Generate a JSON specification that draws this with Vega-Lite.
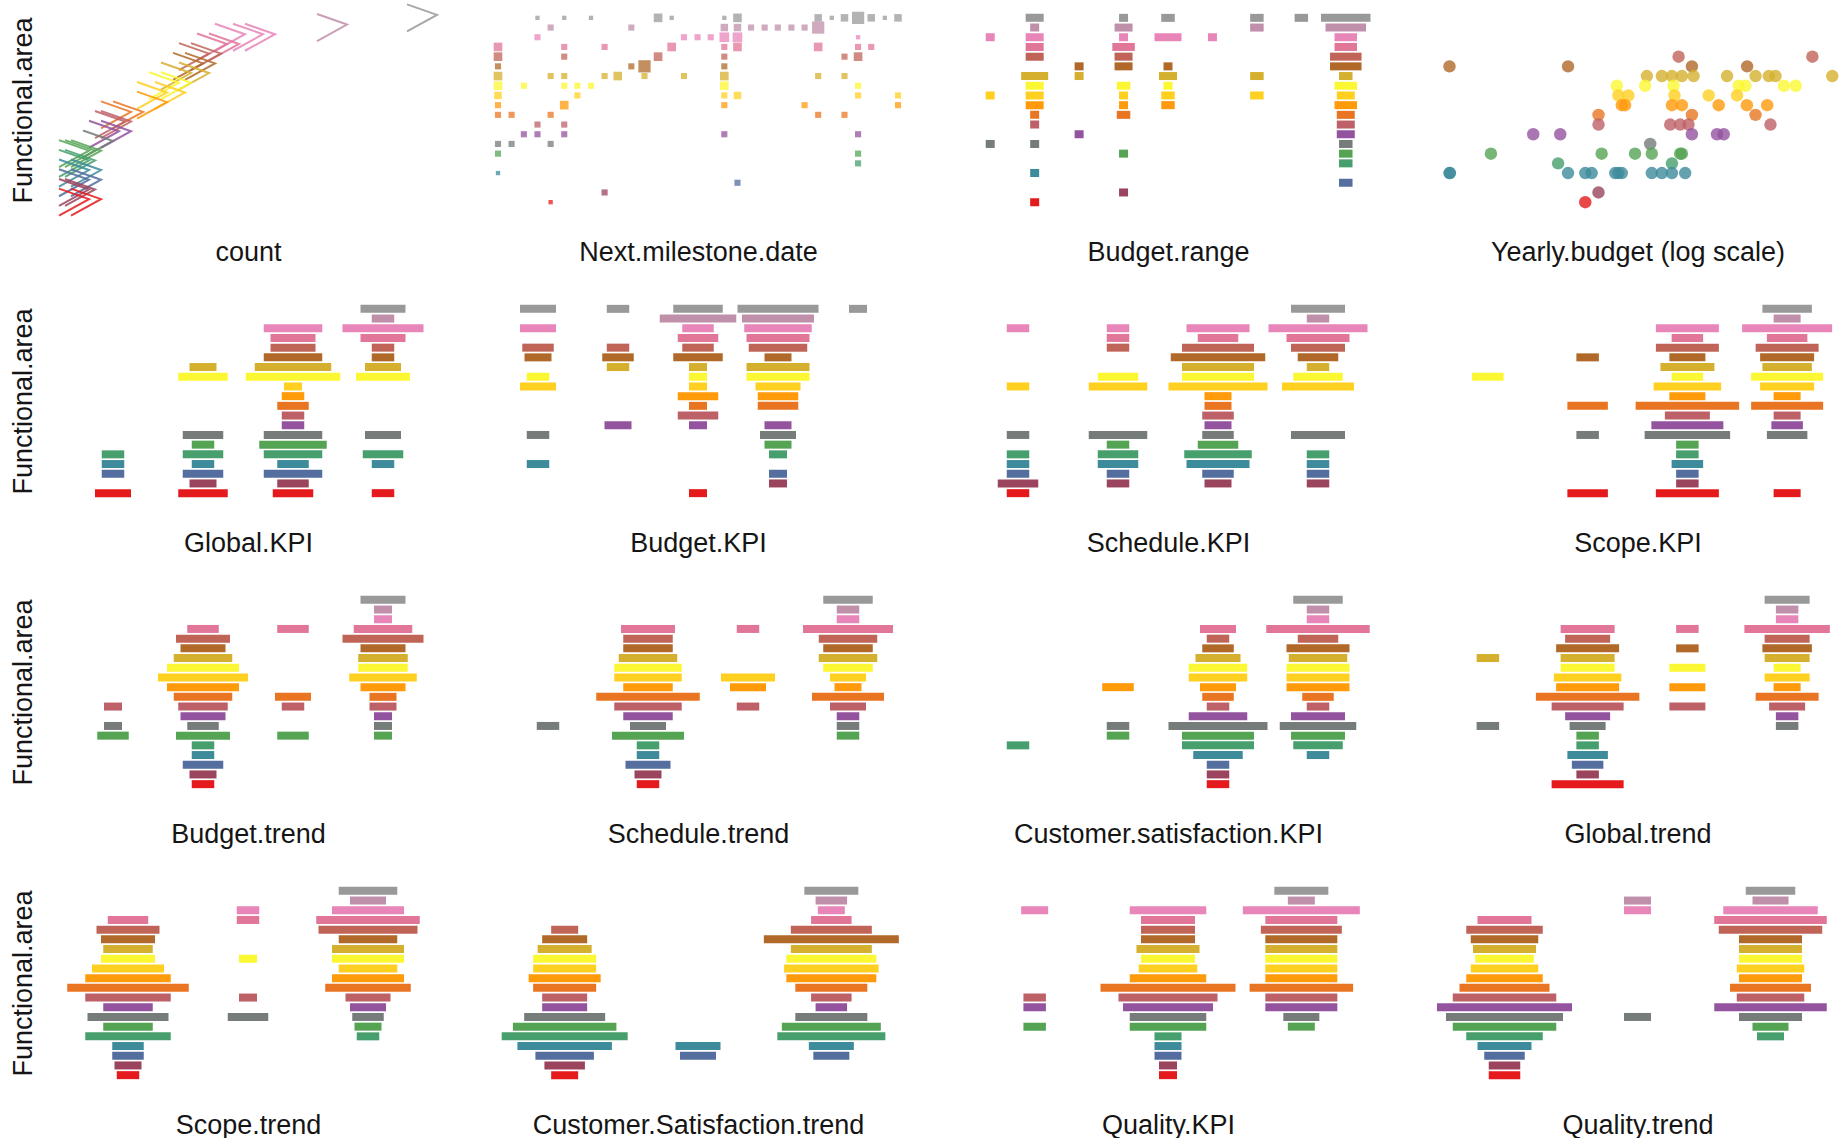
{
"$schema":"https://vega.github.io/schema/vega-lite/v6.json",
"background":"white",
"padding":{"left":9,"top":0,"right":0,"bottom":0},
"columns":4,
"spacing":{"row":97,"column":70},
"bounds":"flush",
"align":"each",
"resolve":{"scale":{"size":"independent"}},
"config":{"view":{"stroke":null},"axis":{"labels":false,"ticks":false,"domain":false,"grid":false,"titleFont":"Liberation Sans","titleFontSize":27,"titleFontWeight":"normal","titleColor":"#151515"},"axisX":{"titlePadding":32},"axisY":{"titlePadding":31}},
"datasets":{
"cnt":[{"a":"A20","count":59},{"a":"A19","count":44},{"a":"A18","count":27},{"a":"A18","count":30},{"a":"A18","count":32},{"a":"A17","count":24},{"a":"A17","count":26},{"a":"A16","count":21},{"a":"A16","count":23},{"a":"A15","count":20},{"a":"A15","count":22},{"a":"A14","count":18},{"a":"A14","count":21},{"a":"A13","count":16},{"a":"A13","count":18},{"a":"A12","count":14},{"a":"A12","count":17},{"a":"A11","count":14},{"a":"A10","count":8},{"a":"A10","count":10},{"a":"A09","count":7},{"a":"A09","count":8},{"a":"A08","count":6},{"a":"A08","count":8},{"a":"A07","count":5},{"a":"A06","count":1},{"a":"A06","count":2},{"a":"A06","count":3},{"a":"A05","count":1},{"a":"A05","count":2},{"a":"A04","count":1},{"a":"A04","count":3},{"a":"A03","count":1},{"a":"A03","count":3},{"a":"A02","count":1},{"a":"A02","count":2},{"a":"A01","count":1},{"a":"A01","count":3}],
"ms":[
{"a":"A20","date":"2014-04-01","n":1},{"a":"A20","date":"2014-06-01","n":1},{"a":"A20","date":"2014-08-01","n":1},{"a":"A20","date":"2015-01-01","n":4},{"a":"A20","date":"2015-02-01","n":1},{"a":"A20","date":"2015-06-01","n":1},{"a":"A20","date":"2015-07-01","n":4},{"a":"A20","date":"2016-01-01","n":3},{"a":"A20","date":"2016-02-01","n":1},{"a":"A20","date":"2016-03-01","n":3},{"a":"A20","date":"2016-04-01","n":8},{"a":"A20","date":"2016-05-01","n":3},{"a":"A20","date":"2016-06-01","n":1},{"a":"A20","date":"2016-07-01","n":3},
{"a":"A19","date":"2014-05-01","n":2},{"a":"A19","date":"2014-11-01","n":2},{"a":"A19","date":"2015-06-01","n":3},{"a":"A19","date":"2015-07-01","n":3},{"a":"A19","date":"2015-08-01","n":2},{"a":"A19","date":"2015-09-01","n":2},{"a":"A19","date":"2015-10-01","n":2},{"a":"A19","date":"2015-11-01","n":2},{"a":"A19","date":"2015-12-01","n":2},{"a":"A19","date":"2016-01-01","n":8},
{"a":"A18","date":"2014-04-01","n":2},{"a":"A18","date":"2015-03-01","n":2},{"a":"A18","date":"2015-04-01","n":2},{"a":"A18","date":"2015-05-01","n":2},{"a":"A18","date":"2015-06-01","n":5},{"a":"A18","date":"2015-07-01","n":5},{"a":"A18","date":"2016-04-01","n":1},
{"a":"A17","date":"2014-01-01","n":4},{"a":"A17","date":"2014-06-01","n":2},{"a":"A17","date":"2014-09-01","n":2},{"a":"A17","date":"2015-02-01","n":4},{"a":"A17","date":"2015-06-01","n":2},{"a":"A17","date":"2015-07-01","n":4},{"a":"A17","date":"2016-01-01","n":4},{"a":"A17","date":"2016-04-01","n":2},{"a":"A17","date":"2016-05-01","n":2},
{"a":"A16","date":"2014-01-01","n":4},{"a":"A16","date":"2014-06-01","n":2},{"a":"A16","date":"2015-01-01","n":4},{"a":"A16","date":"2015-06-01","n":2},{"a":"A16","date":"2016-03-01","n":2},{"a":"A16","date":"2016-04-01","n":4},
{"a":"A15","date":"2014-01-01","n":2},{"a":"A15","date":"2014-11-01","n":2},{"a":"A15","date":"2014-12-01","n":8},{"a":"A15","date":"2015-06-01","n":2},
{"a":"A14","date":"2014-01-01","n":4},{"a":"A14","date":"2014-05-01","n":2},{"a":"A14","date":"2014-06-01","n":2},{"a":"A14","date":"2014-09-01","n":2},{"a":"A14","date":"2014-10-01","n":4},{"a":"A14","date":"2014-12-01","n":2},{"a":"A14","date":"2015-03-01","n":2},{"a":"A14","date":"2015-06-01","n":4},{"a":"A14","date":"2016-01-01","n":2},{"a":"A14","date":"2016-03-01","n":2},
{"a":"A13","date":"2014-01-01","n":4},{"a":"A13","date":"2014-03-01","n":2},{"a":"A13","date":"2014-06-01","n":2},{"a":"A13","date":"2014-07-01","n":2},{"a":"A13","date":"2014-08-01","n":2},{"a":"A13","date":"2015-06-01","n":4},{"a":"A13","date":"2016-04-01","n":2},
{"a":"A12","date":"2014-01-01","n":3},{"a":"A12","date":"2014-07-01","n":2},{"a":"A12","date":"2015-06-01","n":2},{"a":"A12","date":"2015-07-01","n":3},{"a":"A12","date":"2016-04-01","n":2},{"a":"A12","date":"2016-07-01","n":2},
{"a":"A11","date":"2014-01-01","n":2},{"a":"A11","date":"2014-06-01","n":4},{"a":"A11","date":"2015-06-01","n":2},{"a":"A11","date":"2015-12-01","n":2},{"a":"A11","date":"2016-07-01","n":2},
{"a":"A10","date":"2014-01-01","n":2},{"a":"A10","date":"2014-02-01","n":2},{"a":"A10","date":"2014-05-01","n":2},{"a":"A10","date":"2016-01-01","n":2},{"a":"A10","date":"2016-03-01","n":2},
{"a":"A09","date":"2014-04-01","n":2},{"a":"A09","date":"2014-06-01","n":2},
{"a":"A08","date":"2014-03-01","n":2},{"a":"A08","date":"2014-04-01","n":2},{"a":"A08","date":"2014-06-01","n":2},{"a":"A08","date":"2015-06-01","n":2},{"a":"A08","date":"2016-04-01","n":2},
{"a":"A07","date":"2014-01-01","n":2},{"a":"A07","date":"2014-02-01","n":2},{"a":"A07","date":"2014-05-01","n":2},
{"a":"A06","date":"2014-01-01","n":2},{"a":"A06","date":"2016-04-01","n":2},
{"a":"A05","date":"2016-04-01","n":2},
{"a":"A04","date":"2014-01-01","n":1},
{"a":"A03","date":"2015-07-01","n":2},
{"a":"A02","date":"2014-09-01","n":2},
{"a":"A01","date":"2014-05-01","n":1}],
"br":[
{"c":"1","a":"A18","n":2},{"c":"1","a":"A12","n":2},{"c":"1","a":"A07","n":2},
{"c":"2","a":"A20","n":4},{"c":"2","a":"A19","n":2},{"c":"2","a":"A18","n":4},{"c":"2","a":"A17","n":4},{"c":"2","a":"A16","n":4},{"c":"2","a":"A14","n":6},{"c":"2","a":"A13","n":4},{"c":"2","a":"A12","n":4},{"c":"2","a":"A11","n":4},{"c":"2","a":"A10","n":2},{"c":"2","a":"A09","n":2},{"c":"2","a":"A07","n":2},{"c":"2","a":"A04","n":2},{"c":"2","a":"A01","n":2},
{"c":"3","a":"A15","n":2},{"c":"3","a":"A14","n":2},{"c":"3","a":"A08","n":2},
{"c":"4","a":"A20","n":2},{"c":"4","a":"A19","n":4},{"c":"4","a":"A18","n":2},{"c":"4","a":"A17","n":5},{"c":"4","a":"A16","n":4},{"c":"4","a":"A15","n":4},{"c":"4","a":"A13","n":3},{"c":"4","a":"A12","n":2},{"c":"4","a":"A11","n":2},{"c":"4","a":"A10","n":3},{"c":"4","a":"A06","n":2},{"c":"4","a":"A02","n":2},
{"c":"5","a":"A20","n":3},{"c":"5","a":"A18","n":6},{"c":"5","a":"A15","n":2},{"c":"5","a":"A14","n":4},{"c":"5","a":"A13","n":2},{"c":"5","a":"A12","n":3},{"c":"5","a":"A11","n":3},
{"c":"6","a":"A18","n":2},
{"c":"7","a":"A20","n":3},{"c":"7","a":"A19","n":3},{"c":"7","a":"A14","n":3},{"c":"7","a":"A12","n":3},
{"c":"8","a":"A20","n":3},
{"c":"9","a":"A20","n":11},{"c":"9","a":"A19","n":9},{"c":"9","a":"A18","n":5},{"c":"9","a":"A17","n":5},{"c":"9","a":"A16","n":7},{"c":"9","a":"A15","n":7},{"c":"9","a":"A14","n":3},{"c":"9","a":"A13","n":5},{"c":"9","a":"A12","n":4},{"c":"9","a":"A11","n":5},{"c":"9","a":"A10","n":4},{"c":"9","a":"A09","n":4},{"c":"9","a":"A08","n":4},{"c":"9","a":"A07","n":3},{"c":"9","a":"A06","n":3},{"c":"9","a":"A05","n":3},{"c":"9","a":"A03","n":3}],
"yb":[
{"a":"A15","budget":12200},{"a":"A15","budget":95000},{"a":"A15","budget":811000},{"a":"A15","budget":2110000},
{"a":"A16","budget":644000},{"a":"A16","budget":6530000},
{"a":"A14","budget":9220000},{"a":"A14","budget":372000},{"a":"A14","budget":482000},{"a":"A14","budget":574000},{"a":"A14","budget":682000},{"a":"A14","budget":835000},{"a":"A14","budget":1490000},{"a":"A14","budget":2440000},{"a":"A14","budget":3070000},{"a":"A14","budget":3450000},
{"a":"A13","budget":221000},{"a":"A13","budget":361000},{"a":"A13","budget":590000},{"a":"A13","budget":1824000},{"a":"A13","budget":2050000},{"a":"A13","budget":4890000},{"a":"A13","budget":3990000},
{"a":"A12","budget":227000},{"a":"A12","budget":270000},{"a":"A12","budget":600000},{"a":"A12","budget":1085000},{"a":"A12","budget":1773000},
{"a":"A11","budget":241000},{"a":"A11","budget":255000},{"a":"A11","budget":574000},{"a":"A11","budget":682000},{"a":"A11","budget":1290000},{"a":"A11","budget":2100000},{"a":"A11","budget":2985000},
{"a":"A10","budget":161000},{"a":"A10","budget":811000},{"a":"A10","budget":2440000},
{"a":"A09","budget":161000},{"a":"A09","budget":557000},{"a":"A09","budget":662000},{"a":"A09","budget":765000},{"a":"A09","budget":3160000},
{"a":"A08","budget":52000},{"a":"A08","budget":83000},{"a":"A08","budget":811000},{"a":"A08","budget":1253000},{"a":"A08","budget":1407000},
{"a":"A07","budget":394000},
{"a":"A06","budget":25000},{"a":"A06","budget":170000},{"a":"A06","budget":303000},{"a":"A06","budget":405000},{"a":"A06","budget":662000},{"a":"A06","budget":682000},
{"a":"A05","budget":80000},{"a":"A05","budget":574000},
{"a":"A04","budget":12200},{"a":"A04","budget":12300},{"a":"A04","budget":95000},{"a":"A04","budget":128000},{"a":"A04","budget":143000},{"a":"A04","budget":215000},{"a":"A04","budget":227000},{"a":"A04","budget":241000},{"a":"A04","budget":405000},{"a":"A04","budget":482000},{"a":"A04","budget":574000},{"a":"A04","budget":722000},
{"a":"A02","budget":161000},{"a":"A01","budget":128000}],
"gk":[
{"c":"1","a":"A05","n":5},{"c":"1","a":"A04","n":5},{"c":"1","a":"A03","n":5},{"c":"1","a":"A01","n":8},
{"c":"2","a":"A14","n":6},{"c":"2","a":"A13","n":11},{"c":"2","a":"A07","n":9},{"c":"2","a":"A06","n":5},{"c":"2","a":"A05","n":9},{"c":"2","a":"A04","n":5},{"c":"2","a":"A03","n":9},{"c":"2","a":"A02","n":6},{"c":"2","a":"A01","n":11},
{"c":"3","a":"A18","n":13},{"c":"3","a":"A17","n":10},{"c":"3","a":"A16","n":10},{"c":"3","a":"A15","n":13},{"c":"3","a":"A14","n":17},{"c":"3","a":"A13","n":21},{"c":"3","a":"A12","n":4},{"c":"3","a":"A11","n":5},{"c":"3","a":"A10","n":7},{"c":"3","a":"A09","n":5},{"c":"3","a":"A08","n":5},{"c":"3","a":"A07","n":13},{"c":"3","a":"A06","n":15},{"c":"3","a":"A05","n":13},{"c":"3","a":"A04","n":7},{"c":"3","a":"A03","n":13},{"c":"3","a":"A02","n":7},{"c":"3","a":"A01","n":9},
{"c":"4","a":"A20","n":10},{"c":"4","a":"A19","n":5},{"c":"4","a":"A18","n":18},{"c":"4","a":"A17","n":10},{"c":"4","a":"A16","n":5},{"c":"4","a":"A15","n":5},{"c":"4","a":"A14","n":8},{"c":"4","a":"A13","n":12},{"c":"4","a":"A07","n":8},{"c":"4","a":"A05","n":9},{"c":"4","a":"A04","n":5},{"c":"4","a":"A01","n":5}],
"bk":[
{"c":"1","a":"A20","n":8},{"c":"1","a":"A18","n":8},{"c":"1","a":"A16","n":7},{"c":"1","a":"A15","n":6},{"c":"1","a":"A13","n":5},{"c":"1","a":"A12","n":8},{"c":"1","a":"A07","n":5},{"c":"1","a":"A04","n":5},
{"c":"2","a":"A20","n":5},{"c":"2","a":"A16","n":5},{"c":"2","a":"A15","n":7},{"c":"2","a":"A14","n":5},{"c":"2","a":"A08","n":6},
{"c":"3","a":"A20","n":11},{"c":"3","a":"A19","n":17},{"c":"3","a":"A18","n":7},{"c":"3","a":"A17","n":9},{"c":"3","a":"A16","n":7},{"c":"3","a":"A15","n":11},{"c":"3","a":"A14","n":4},{"c":"3","a":"A13","n":4},{"c":"3","a":"A12","n":4},{"c":"3","a":"A11","n":9},{"c":"3","a":"A10","n":4},{"c":"3","a":"A09","n":9},{"c":"3","a":"A08","n":4},{"c":"3","a":"A01","n":4},
{"c":"4","a":"A20","n":18},{"c":"4","a":"A19","n":16},{"c":"4","a":"A18","n":15},{"c":"4","a":"A17","n":14},{"c":"4","a":"A16","n":13},{"c":"4","a":"A15","n":6},{"c":"4","a":"A14","n":14},{"c":"4","a":"A13","n":14},{"c":"4","a":"A12","n":10},{"c":"4","a":"A11","n":9},{"c":"4","a":"A10","n":9},{"c":"4","a":"A08","n":6},{"c":"4","a":"A07","n":8},{"c":"4","a":"A06","n":6},{"c":"4","a":"A05","n":4},{"c":"4","a":"A03","n":4},{"c":"4","a":"A02","n":4},
{"c":"5","a":"A20","n":4}],
"sk":[
{"c":"1","a":"A18","n":5},{"c":"1","a":"A12","n":5},{"c":"1","a":"A07","n":5},{"c":"1","a":"A05","n":5},{"c":"1","a":"A04","n":5},{"c":"1","a":"A03","n":5},{"c":"1","a":"A02","n":9},{"c":"1","a":"A01","n":5},
{"c":"2","a":"A18","n":5},{"c":"2","a":"A17","n":5},{"c":"2","a":"A16","n":5},{"c":"2","a":"A13","n":9},{"c":"2","a":"A12","n":13},{"c":"2","a":"A07","n":13},{"c":"2","a":"A06","n":5},{"c":"2","a":"A05","n":9},{"c":"2","a":"A04","n":9},{"c":"2","a":"A03","n":5},{"c":"2","a":"A02","n":5},
{"c":"3","a":"A18","n":14},{"c":"3","a":"A17","n":9},{"c":"3","a":"A16","n":16},{"c":"3","a":"A15","n":21},{"c":"3","a":"A14","n":16},{"c":"3","a":"A13","n":16},{"c":"3","a":"A12","n":22},{"c":"3","a":"A11","n":6},{"c":"3","a":"A10","n":6},{"c":"3","a":"A09","n":7},{"c":"3","a":"A08","n":6},{"c":"3","a":"A07","n":7},{"c":"3","a":"A06","n":9},{"c":"3","a":"A05","n":15},{"c":"3","a":"A04","n":14},{"c":"3","a":"A03","n":7},{"c":"3","a":"A02","n":6},
{"c":"4","a":"A20","n":12},{"c":"4","a":"A19","n":5},{"c":"4","a":"A18","n":22},{"c":"4","a":"A17","n":14},{"c":"4","a":"A16","n":12},{"c":"4","a":"A15","n":9},{"c":"4","a":"A14","n":5},{"c":"4","a":"A13","n":11},{"c":"4","a":"A12","n":16},{"c":"4","a":"A07","n":12},{"c":"4","a":"A05","n":5},{"c":"4","a":"A04","n":5},{"c":"4","a":"A03","n":5},{"c":"4","a":"A02","n":5}],
"sck":[
{"c":"1","a":"A13","n":7},
{"c":"2","a":"A15","n":5},{"c":"2","a":"A10","n":9},{"c":"2","a":"A07","n":5},{"c":"2","a":"A01","n":9},
{"c":"3","a":"A18","n":14},{"c":"3","a":"A17","n":7},{"c":"3","a":"A16","n":14},{"c":"3","a":"A15","n":8},{"c":"3","a":"A14","n":12},{"c":"3","a":"A13","n":7},{"c":"3","a":"A12","n":15},{"c":"3","a":"A11","n":8},{"c":"3","a":"A10","n":23},{"c":"3","a":"A09","n":10},{"c":"3","a":"A08","n":16},{"c":"3","a":"A07","n":19},{"c":"3","a":"A06","n":5},{"c":"3","a":"A05","n":5},{"c":"3","a":"A04","n":7},{"c":"3","a":"A03","n":5},{"c":"3","a":"A02","n":5},{"c":"3","a":"A01","n":14},
{"c":"4","a":"A20","n":11},{"c":"4","a":"A19","n":6},{"c":"4","a":"A18","n":20},{"c":"4","a":"A17","n":9},{"c":"4","a":"A16","n":14},{"c":"4","a":"A15","n":12},{"c":"4","a":"A14","n":11},{"c":"4","a":"A13","n":16},{"c":"4","a":"A12","n":12},{"c":"4","a":"A11","n":6},{"c":"4","a":"A10","n":16},{"c":"4","a":"A09","n":6},{"c":"4","a":"A08","n":7},{"c":"4","a":"A07","n":9},{"c":"4","a":"A01","n":6}],
"bt":[
{"c":"1","a":"A09","n":4},{"c":"1","a":"A07","n":4},{"c":"1","a":"A06","n":7},
{"c":"2","a":"A17","n":7},{"c":"2","a":"A16","n":12},{"c":"2","a":"A15","n":10},{"c":"2","a":"A14","n":13},{"c":"2","a":"A13","n":16},{"c":"2","a":"A12","n":20},{"c":"2","a":"A11","n":16},{"c":"2","a":"A10","n":13},{"c":"2","a":"A09","n":11},{"c":"2","a":"A08","n":10},{"c":"2","a":"A07","n":7},{"c":"2","a":"A06","n":12},{"c":"2","a":"A05","n":5},{"c":"2","a":"A04","n":5},{"c":"2","a":"A03","n":9},{"c":"2","a":"A02","n":6},{"c":"2","a":"A01","n":5},
{"c":"3","a":"A17","n":7},{"c":"3","a":"A10","n":8},{"c":"3","a":"A09","n":5},{"c":"3","a":"A06","n":7},
{"c":"4","a":"A20","n":10},{"c":"4","a":"A19","n":4},{"c":"4","a":"A18","n":4},{"c":"4","a":"A17","n":13},{"c":"4","a":"A16","n":18},{"c":"4","a":"A15","n":10},{"c":"4","a":"A14","n":11},{"c":"4","a":"A13","n":11},{"c":"4","a":"A12","n":15},{"c":"4","a":"A11","n":10},{"c":"4","a":"A10","n":6},{"c":"4","a":"A09","n":6},{"c":"4","a":"A08","n":4},{"c":"4","a":"A07","n":4},{"c":"4","a":"A06","n":4}],
"st":[
{"c":"1","a":"A07","n":5},
{"c":"2","a":"A17","n":12},{"c":"2","a":"A16","n":11},{"c":"2","a":"A15","n":11},{"c":"2","a":"A14","n":13},{"c":"2","a":"A13","n":15},{"c":"2","a":"A12","n":15},{"c":"2","a":"A11","n":11},{"c":"2","a":"A10","n":23},{"c":"2","a":"A09","n":15},{"c":"2","a":"A08","n":11},{"c":"2","a":"A07","n":8},{"c":"2","a":"A06","n":16},{"c":"2","a":"A05","n":5},{"c":"2","a":"A04","n":5},{"c":"2","a":"A03","n":10},{"c":"2","a":"A02","n":6},{"c":"2","a":"A01","n":5},
{"c":"3","a":"A17","n":5},{"c":"3","a":"A12","n":12},{"c":"3","a":"A11","n":8},{"c":"3","a":"A09","n":5},
{"c":"4","a":"A20","n":11},{"c":"4","a":"A19","n":5},{"c":"4","a":"A18","n":5},{"c":"4","a":"A17","n":20},{"c":"4","a":"A16","n":13},{"c":"4","a":"A15","n":11},{"c":"4","a":"A14","n":13},{"c":"4","a":"A13","n":11},{"c":"4","a":"A12","n":8},{"c":"4","a":"A11","n":6},{"c":"4","a":"A10","n":16},{"c":"4","a":"A09","n":8},{"c":"4","a":"A08","n":5},{"c":"4","a":"A07","n":5},{"c":"4","a":"A06","n":5}],
"ck":[
{"c":"1","a":"A05","n":5},
{"c":"2","a":"A11","n":7},{"c":"2","a":"A07","n":5},{"c":"2","a":"A06","n":5},
{"c":"3","a":"A17","n":8},{"c":"3","a":"A16","n":5},{"c":"3","a":"A15","n":7},{"c":"3","a":"A14","n":10},{"c":"3","a":"A13","n":13},{"c":"3","a":"A12","n":13},{"c":"3","a":"A11","n":8},{"c":"3","a":"A10","n":7},{"c":"3","a":"A09","n":5},{"c":"3","a":"A08","n":13},{"c":"3","a":"A07","n":22},{"c":"3","a":"A06","n":16},{"c":"3","a":"A05","n":16},{"c":"3","a":"A04","n":11},{"c":"3","a":"A03","n":5},{"c":"3","a":"A02","n":5},{"c":"3","a":"A01","n":5},
{"c":"4","a":"A20","n":11},{"c":"4","a":"A19","n":5},{"c":"4","a":"A18","n":5},{"c":"4","a":"A17","n":23},{"c":"4","a":"A16","n":9},{"c":"4","a":"A15","n":14},{"c":"4","a":"A14","n":13},{"c":"4","a":"A13","n":14},{"c":"4","a":"A12","n":14},{"c":"4","a":"A11","n":14},{"c":"4","a":"A10","n":7},{"c":"4","a":"A09","n":5},{"c":"4","a":"A08","n":12},{"c":"4","a":"A07","n":17},{"c":"4","a":"A06","n":12},{"c":"4","a":"A05","n":11},{"c":"4","a":"A04","n":5}],
"gt":[
{"c":"1","a":"A14","n":5},{"c":"1","a":"A07","n":5},
{"c":"2","a":"A17","n":12},{"c":"2","a":"A16","n":10},{"c":"2","a":"A15","n":14},{"c":"2","a":"A14","n":12},{"c":"2","a":"A13","n":12},{"c":"2","a":"A12","n":15},{"c":"2","a":"A11","n":14},{"c":"2","a":"A10","n":23},{"c":"2","a":"A09","n":16},{"c":"2","a":"A08","n":10},{"c":"2","a":"A07","n":8},{"c":"2","a":"A06","n":5},{"c":"2","a":"A05","n":5},{"c":"2","a":"A04","n":9},{"c":"2","a":"A03","n":7},{"c":"2","a":"A02","n":5},{"c":"2","a":"A01","n":16},
{"c":"3","a":"A17","n":5},{"c":"3","a":"A15","n":5},{"c":"3","a":"A13","n":8},{"c":"3","a":"A11","n":8},{"c":"3","a":"A09","n":8},
{"c":"4","a":"A20","n":10},{"c":"4","a":"A19","n":5},{"c":"4","a":"A18","n":5},{"c":"4","a":"A17","n":19},{"c":"4","a":"A16","n":10},{"c":"4","a":"A15","n":11},{"c":"4","a":"A14","n":10},{"c":"4","a":"A13","n":6},{"c":"4","a":"A12","n":10},{"c":"4","a":"A11","n":6},{"c":"4","a":"A10","n":14},{"c":"4","a":"A09","n":8},{"c":"4","a":"A08","n":5},{"c":"4","a":"A07","n":5}],
"sct":[
{"c":"1","a":"A17","n":9},{"c":"1","a":"A16","n":14},{"c":"1","a":"A15","n":12},{"c":"1","a":"A14","n":11},{"c":"1","a":"A13","n":12},{"c":"1","a":"A12","n":16},{"c":"1","a":"A11","n":19},{"c":"1","a":"A10","n":27},{"c":"1","a":"A09","n":19},{"c":"1","a":"A08","n":11},{"c":"1","a":"A07","n":18},{"c":"1","a":"A06","n":11},{"c":"1","a":"A05","n":19},{"c":"1","a":"A04","n":7},{"c":"1","a":"A03","n":7},{"c":"1","a":"A02","n":6},{"c":"1","a":"A01","n":5},
{"c":"2","a":"A18","n":5},{"c":"2","a":"A17","n":5},{"c":"2","a":"A13","n":4},{"c":"2","a":"A09","n":4},{"c":"2","a":"A07","n":9},
{"c":"3","a":"A20","n":13},{"c":"3","a":"A19","n":8},{"c":"3","a":"A18","n":16},{"c":"3","a":"A17","n":23},{"c":"3","a":"A16","n":22},{"c":"3","a":"A15","n":13},{"c":"3","a":"A14","n":16},{"c":"3","a":"A13","n":16},{"c":"3","a":"A12","n":13},{"c":"3","a":"A11","n":16},{"c":"3","a":"A10","n":19},{"c":"3","a":"A09","n":10},{"c":"3","a":"A08","n":8},{"c":"3","a":"A07","n":7},{"c":"3","a":"A06","n":6},{"c":"3","a":"A05","n":5}],
"ct":[
{"c":"1","a":"A16","n":6},{"c":"1","a":"A15","n":10},{"c":"1","a":"A14","n":12},{"c":"1","a":"A13","n":14},{"c":"1","a":"A12","n":14},{"c":"1","a":"A11","n":16},{"c":"1","a":"A10","n":14},{"c":"1","a":"A09","n":10},{"c":"1","a":"A08","n":10},{"c":"1","a":"A07","n":18},{"c":"1","a":"A06","n":23},{"c":"1","a":"A05","n":28},{"c":"1","a":"A04","n":21},{"c":"1","a":"A03","n":13},{"c":"1","a":"A02","n":9},{"c":"1","a":"A01","n":6},
{"c":"2","a":"A04","n":10},{"c":"2","a":"A03","n":8},
{"c":"3","a":"A20","n":12},{"c":"3","a":"A19","n":7},{"c":"3","a":"A18","n":6},{"c":"3","a":"A17","n":9},{"c":"3","a":"A16","n":18},{"c":"3","a":"A15","n":30},{"c":"3","a":"A14","n":18},{"c":"3","a":"A13","n":20},{"c":"3","a":"A12","n":21},{"c":"3","a":"A11","n":20},{"c":"3","a":"A10","n":16},{"c":"3","a":"A09","n":9},{"c":"3","a":"A08","n":7},{"c":"3","a":"A07","n":16},{"c":"3","a":"A06","n":22},{"c":"3","a":"A05","n":24},{"c":"3","a":"A04","n":10},{"c":"3","a":"A03","n":8}],
"qk":[
{"c":"1","a":"A18","n":6},{"c":"1","a":"A09","n":5},{"c":"1","a":"A08","n":5},{"c":"1","a":"A06","n":5},
{"c":"2","a":"A18","n":17},{"c":"2","a":"A17","n":12},{"c":"2","a":"A16","n":12},{"c":"2","a":"A15","n":12},{"c":"2","a":"A14","n":14},{"c":"2","a":"A13","n":12},{"c":"2","a":"A12","n":13},{"c":"2","a":"A11","n":17},{"c":"2","a":"A10","n":30},{"c":"2","a":"A09","n":22},{"c":"2","a":"A08","n":20},{"c":"2","a":"A07","n":17},{"c":"2","a":"A06","n":17},{"c":"2","a":"A05","n":6},{"c":"2","a":"A04","n":6},{"c":"2","a":"A03","n":6},{"c":"2","a":"A02","n":4},{"c":"2","a":"A01","n":4},
{"c":"3","a":"A20","n":12},{"c":"3","a":"A19","n":6},{"c":"3","a":"A18","n":26},{"c":"3","a":"A17","n":16},{"c":"3","a":"A16","n":18},{"c":"3","a":"A15","n":16},{"c":"3","a":"A14","n":16},{"c":"3","a":"A13","n":16},{"c":"3","a":"A12","n":16},{"c":"3","a":"A11","n":16},{"c":"3","a":"A10","n":23},{"c":"3","a":"A09","n":16},{"c":"3","a":"A08","n":16},{"c":"3","a":"A07","n":8},{"c":"3","a":"A06","n":6}],
"qt":[
{"c":"1","a":"A17","n":12},{"c":"1","a":"A16","n":17},{"c":"1","a":"A15","n":15},{"c":"1","a":"A14","n":14},{"c":"1","a":"A13","n":13},{"c":"1","a":"A12","n":15},{"c":"1","a":"A11","n":17},{"c":"1","a":"A10","n":20},{"c":"1","a":"A09","n":23},{"c":"1","a":"A08","n":30},{"c":"1","a":"A07","n":26},{"c":"1","a":"A06","n":23},{"c":"1","a":"A05","n":17},{"c":"1","a":"A04","n":12},{"c":"1","a":"A03","n":9},{"c":"1","a":"A02","n":7},{"c":"1","a":"A01","n":7},
{"c":"2","a":"A19","n":6},{"c":"2","a":"A18","n":6},{"c":"2","a":"A07","n":6},
{"c":"3","a":"A20","n":11},{"c":"3","a":"A19","n":8},{"c":"3","a":"A18","n":21},{"c":"3","a":"A17","n":25},{"c":"3","a":"A16","n":23},{"c":"3","a":"A15","n":14},{"c":"3","a":"A14","n":14},{"c":"3","a":"A13","n":14},{"c":"3","a":"A12","n":15},{"c":"3","a":"A11","n":14},{"c":"3","a":"A10","n":18},{"c":"3","a":"A09","n":15},{"c":"3","a":"A08","n":25},{"c":"3","a":"A07","n":14},{"c":"3","a":"A06","n":8},{"c":"3","a":"A05","n":6}]
},
"concat":[
{"width":360,"height":194,"data":{"name":"cnt"},"mark":{"type":"point","shape":"M -1 -0.9 L 1 -0.2 L -1 0.9","filled":false,"size":900,"strokeWidth":2,"opacity":0.85},
"encoding":{"x":{"field":"count","type":"quantitative","scale":{"domain":[0,60],"nice":false,"zero":false},"axis":{"title":"count"}},
"y":{"field":"a","type":"nominal","scale":{"type":"band","domain":["A20","A19","A18","A17","A16","A15","A14","A13","A12","A11","A10","A09","A08","A07","A06","A05","A04","A03","A02","A01"],"paddingInner":0,"paddingOuter":0},"axis":{"title":"Functional.area"}},
"color":{"field":"a","type":"nominal","scale":{"domain":["A01","A02","A03","A04","A05","A06","A07","A08","A09","A10","A11","A12","A13","A14","A15","A16","A17","A18","A19","A20"],"range":["#E41A1C","#9B445D","#536E9F","#3D8B9B","#469F6D","#55A454","#757C79","#94539F","#BE6067","#E97522","#FF9A0B","#FFD020","#FBF732","#D5B02E","#B06929","#C06458","#E27698","#E885B9","#C08FA9","#999999"]},"legend":null}}},
{"width":400,"height":194,"data":{"name":"ms"},"mark":{"type":"square","opacity":0.75},
"encoding":{"x":{"field":"date","type":"temporal","scale":{"type":"utc","domain":[{"year":2014,"month":1,"date":1,"utc":true},{"year":2016,"month":7,"date":1,"utc":true}],"nice":false},"axis":{"title":"Next.milestone.date"}},
"y":{"field":"a","type":"nominal","scale":{"type":"band","domain":["A20","A19","A18","A17","A16","A15","A14","A13","A12","A11","A10","A09","A08","A07","A06","A05","A04","A03","A02","A01"],"paddingInner":0,"paddingOuter":0},"axis":null},
"size":{"field":"n","type":"quantitative","scale":{"domain":[0,8],"range":[0,150]},"legend":null},
"color":{"field":"a","type":"nominal","scale":{"domain":["A01","A02","A03","A04","A05","A06","A07","A08","A09","A10","A11","A12","A13","A14","A15","A16","A17","A18","A19","A20"],"range":["#E41A1C","#9B445D","#536E9F","#3D8B9B","#469F6D","#55A454","#757C79","#94539F","#BE6067","#E97522","#FF9A0B","#FFD020","#FBF732","#D5B02E","#B06929","#C06458","#E27698","#E885B9","#C08FA9","#999999"]},"legend":null}}},
{"width":400,"height":194,"data":{"name":"br"},"mark":{"type":"tick","orient":"horizontal","thickness":8,"opacity":1},
"encoding":{"x":{"field":"c","type":"nominal","scale":{"type":"band","domain":["1","2","3","4","5","6","7","8","9"],"paddingInner":0,"paddingOuter":0},"axis":{"title":"Budget.range"}},
"y":{"field":"a","type":"nominal","scale":{"type":"band","domain":["A20","A19","A18","A17","A16","A15","A14","A13","A12","A11","A10","A09","A08","A07","A06","A05","A04","A03","A02","A01"],"paddingInner":0,"paddingOuter":0},"axis":null},
"size":{"field":"n","type":"quantitative","scale":{"domain":[0,20],"range":[0,90]},"legend":null},
"color":{"field":"a","type":"nominal","scale":{"domain":["A01","A02","A03","A04","A05","A06","A07","A08","A09","A10","A11","A12","A13","A14","A15","A16","A17","A18","A19","A20"],"range":["#E41A1C","#9B445D","#536E9F","#3D8B9B","#469F6D","#55A454","#757C79","#94539F","#BE6067","#E97522","#FF9A0B","#FFD020","#FBF732","#D5B02E","#B06929","#C06458","#E27698","#E885B9","#C08FA9","#999999"]},"legend":null}}},
{"width":399,"height":194,"data":{"name":"yb"},"mark":{"type":"circle","size":155,"opacity":0.8},
"encoding":{"x":{"field":"budget","type":"quantitative","scale":{"type":"log","domain":[10000,10000000],"nice":false},"axis":{"title":"Yearly.budget (log scale)"}},
"y":{"field":"a","type":"nominal","scale":{"type":"band","domain":["A20","A19","A18","A17","A16","A15","A14","A13","A12","A11","A10","A09","A08","A07","A06","A05","A04","A03","A02","A01"],"paddingInner":0,"paddingOuter":0},"axis":null},
"color":{"field":"a","type":"nominal","scale":{"domain":["A01","A02","A03","A04","A05","A06","A07","A08","A09","A10","A11","A12","A13","A14","A15","A16","A17","A18","A19","A20"],"range":["#E41A1C","#9B445D","#536E9F","#3D8B9B","#469F6D","#55A454","#757C79","#94539F","#BE6067","#E97522","#FF9A0B","#FFD020","#FBF732","#D5B02E","#B06929","#C06458","#E27698","#E885B9","#C08FA9","#999999"]},"legend":null}}},
{"width":360,"height":194,"data":{"name":"gk"},"mark":{"type":"tick","orient":"horizontal","thickness":8,"opacity":1},
"encoding":{"x":{"field":"c","type":"nominal","scale":{"type":"band","domain":["1","2","3","4"],"paddingInner":0,"paddingOuter":0},"axis":{"title":"Global.KPI"}},
"y":{"field":"a","type":"nominal","scale":{"type":"band","domain":["A20","A19","A18","A17","A16","A15","A14","A13","A12","A11","A10","A09","A08","A07","A06","A05","A04","A03","A02","A01"],"paddingInner":0,"paddingOuter":0},"axis":{"title":"Functional.area"}},
"size":{"field":"n","type":"quantitative","scale":{"domain":[0,20],"range":[0,90]},"legend":null},
"color":{"field":"a","type":"nominal","scale":{"domain":["A01","A02","A03","A04","A05","A06","A07","A08","A09","A10","A11","A12","A13","A14","A15","A16","A17","A18","A19","A20"],"range":["#E41A1C","#9B445D","#536E9F","#3D8B9B","#469F6D","#55A454","#757C79","#94539F","#BE6067","#E97522","#FF9A0B","#FFD020","#FBF732","#D5B02E","#B06929","#C06458","#E27698","#E885B9","#C08FA9","#999999"]},"legend":null}}},
{"width":400,"height":194,"data":{"name":"bk"},"mark":{"type":"tick","orient":"horizontal","thickness":8,"opacity":1},
"encoding":{"x":{"field":"c","type":"nominal","scale":{"type":"band","domain":["1","2","3","4","5"],"paddingInner":0,"paddingOuter":0},"axis":{"title":"Budget.KPI"}},
"y":{"field":"a","type":"nominal","scale":{"type":"band","domain":["A20","A19","A18","A17","A16","A15","A14","A13","A12","A11","A10","A09","A08","A07","A06","A05","A04","A03","A02","A01"],"paddingInner":0,"paddingOuter":0},"axis":null},
"size":{"field":"n","type":"quantitative","scale":{"domain":[0,20],"range":[0,90]},"legend":null},
"color":{"field":"a","type":"nominal","scale":{"domain":["A01","A02","A03","A04","A05","A06","A07","A08","A09","A10","A11","A12","A13","A14","A15","A16","A17","A18","A19","A20"],"range":["#E41A1C","#9B445D","#536E9F","#3D8B9B","#469F6D","#55A454","#757C79","#94539F","#BE6067","#E97522","#FF9A0B","#FFD020","#FBF732","#D5B02E","#B06929","#C06458","#E27698","#E885B9","#C08FA9","#999999"]},"legend":null}}},
{"width":400,"height":194,"data":{"name":"sk"},"mark":{"type":"tick","orient":"horizontal","thickness":8,"opacity":1},
"encoding":{"x":{"field":"c","type":"nominal","scale":{"type":"band","domain":["1","2","3","4"],"paddingInner":0,"paddingOuter":0},"axis":{"title":"Schedule.KPI"}},
"y":{"field":"a","type":"nominal","scale":{"type":"band","domain":["A20","A19","A18","A17","A16","A15","A14","A13","A12","A11","A10","A09","A08","A07","A06","A05","A04","A03","A02","A01"],"paddingInner":0,"paddingOuter":0},"axis":null},
"size":{"field":"n","type":"quantitative","scale":{"domain":[0,20],"range":[0,90]},"legend":null},
"color":{"field":"a","type":"nominal","scale":{"domain":["A01","A02","A03","A04","A05","A06","A07","A08","A09","A10","A11","A12","A13","A14","A15","A16","A17","A18","A19","A20"],"range":["#E41A1C","#9B445D","#536E9F","#3D8B9B","#469F6D","#55A454","#757C79","#94539F","#BE6067","#E97522","#FF9A0B","#FFD020","#FBF732","#D5B02E","#B06929","#C06458","#E27698","#E885B9","#C08FA9","#999999"]},"legend":null}}},
{"width":399,"height":194,"data":{"name":"sck"},"mark":{"type":"tick","orient":"horizontal","thickness":8,"opacity":1},
"encoding":{"x":{"field":"c","type":"nominal","scale":{"type":"band","domain":["1","2","3","4"],"paddingInner":0,"paddingOuter":0},"axis":{"title":"Scope.KPI"}},
"y":{"field":"a","type":"nominal","scale":{"type":"band","domain":["A20","A19","A18","A17","A16","A15","A14","A13","A12","A11","A10","A09","A08","A07","A06","A05","A04","A03","A02","A01"],"paddingInner":0,"paddingOuter":0},"axis":null},
"size":{"field":"n","type":"quantitative","scale":{"domain":[0,20],"range":[0,90]},"legend":null},
"color":{"field":"a","type":"nominal","scale":{"domain":["A01","A02","A03","A04","A05","A06","A07","A08","A09","A10","A11","A12","A13","A14","A15","A16","A17","A18","A19","A20"],"range":["#E41A1C","#9B445D","#536E9F","#3D8B9B","#469F6D","#55A454","#757C79","#94539F","#BE6067","#E97522","#FF9A0B","#FFD020","#FBF732","#D5B02E","#B06929","#C06458","#E27698","#E885B9","#C08FA9","#999999"]},"legend":null}}},
{"width":360,"height":194,"data":{"name":"bt"},"mark":{"type":"tick","orient":"horizontal","thickness":8,"opacity":1},
"encoding":{"x":{"field":"c","type":"nominal","scale":{"type":"band","domain":["1","2","3","4"],"paddingInner":0,"paddingOuter":0},"axis":{"title":"Budget.trend"}},
"y":{"field":"a","type":"nominal","scale":{"type":"band","domain":["A20","A19","A18","A17","A16","A15","A14","A13","A12","A11","A10","A09","A08","A07","A06","A05","A04","A03","A02","A01"],"paddingInner":0,"paddingOuter":0},"axis":{"title":"Functional.area"}},
"size":{"field":"n","type":"quantitative","scale":{"domain":[0,20],"range":[0,90]},"legend":null},
"color":{"field":"a","type":"nominal","scale":{"domain":["A01","A02","A03","A04","A05","A06","A07","A08","A09","A10","A11","A12","A13","A14","A15","A16","A17","A18","A19","A20"],"range":["#E41A1C","#9B445D","#536E9F","#3D8B9B","#469F6D","#55A454","#757C79","#94539F","#BE6067","#E97522","#FF9A0B","#FFD020","#FBF732","#D5B02E","#B06929","#C06458","#E27698","#E885B9","#C08FA9","#999999"]},"legend":null}}},
{"width":400,"height":194,"data":{"name":"st"},"mark":{"type":"tick","orient":"horizontal","thickness":8,"opacity":1},
"encoding":{"x":{"field":"c","type":"nominal","scale":{"type":"band","domain":["1","2","3","4"],"paddingInner":0,"paddingOuter":0},"axis":{"title":"Schedule.trend"}},
"y":{"field":"a","type":"nominal","scale":{"type":"band","domain":["A20","A19","A18","A17","A16","A15","A14","A13","A12","A11","A10","A09","A08","A07","A06","A05","A04","A03","A02","A01"],"paddingInner":0,"paddingOuter":0},"axis":null},
"size":{"field":"n","type":"quantitative","scale":{"domain":[0,20],"range":[0,90]},"legend":null},
"color":{"field":"a","type":"nominal","scale":{"domain":["A01","A02","A03","A04","A05","A06","A07","A08","A09","A10","A11","A12","A13","A14","A15","A16","A17","A18","A19","A20"],"range":["#E41A1C","#9B445D","#536E9F","#3D8B9B","#469F6D","#55A454","#757C79","#94539F","#BE6067","#E97522","#FF9A0B","#FFD020","#FBF732","#D5B02E","#B06929","#C06458","#E27698","#E885B9","#C08FA9","#999999"]},"legend":null}}},
{"width":400,"height":194,"data":{"name":"ck"},"mark":{"type":"tick","orient":"horizontal","thickness":8,"opacity":1},
"encoding":{"x":{"field":"c","type":"nominal","scale":{"type":"band","domain":["1","2","3","4"],"paddingInner":0,"paddingOuter":0},"axis":{"title":"Customer.satisfaction.KPI"}},
"y":{"field":"a","type":"nominal","scale":{"type":"band","domain":["A20","A19","A18","A17","A16","A15","A14","A13","A12","A11","A10","A09","A08","A07","A06","A05","A04","A03","A02","A01"],"paddingInner":0,"paddingOuter":0},"axis":null},
"size":{"field":"n","type":"quantitative","scale":{"domain":[0,20],"range":[0,90]},"legend":null},
"color":{"field":"a","type":"nominal","scale":{"domain":["A01","A02","A03","A04","A05","A06","A07","A08","A09","A10","A11","A12","A13","A14","A15","A16","A17","A18","A19","A20"],"range":["#E41A1C","#9B445D","#536E9F","#3D8B9B","#469F6D","#55A454","#757C79","#94539F","#BE6067","#E97522","#FF9A0B","#FFD020","#FBF732","#D5B02E","#B06929","#C06458","#E27698","#E885B9","#C08FA9","#999999"]},"legend":null}}},
{"width":399,"height":194,"data":{"name":"gt"},"mark":{"type":"tick","orient":"horizontal","thickness":8,"opacity":1},
"encoding":{"x":{"field":"c","type":"nominal","scale":{"type":"band","domain":["1","2","3","4"],"paddingInner":0,"paddingOuter":0},"axis":{"title":"Global.trend"}},
"y":{"field":"a","type":"nominal","scale":{"type":"band","domain":["A20","A19","A18","A17","A16","A15","A14","A13","A12","A11","A10","A09","A08","A07","A06","A05","A04","A03","A02","A01"],"paddingInner":0,"paddingOuter":0},"axis":null},
"size":{"field":"n","type":"quantitative","scale":{"domain":[0,20],"range":[0,90]},"legend":null},
"color":{"field":"a","type":"nominal","scale":{"domain":["A01","A02","A03","A04","A05","A06","A07","A08","A09","A10","A11","A12","A13","A14","A15","A16","A17","A18","A19","A20"],"range":["#E41A1C","#9B445D","#536E9F","#3D8B9B","#469F6D","#55A454","#757C79","#94539F","#BE6067","#E97522","#FF9A0B","#FFD020","#FBF732","#D5B02E","#B06929","#C06458","#E27698","#E885B9","#C08FA9","#999999"]},"legend":null}}},
{"width":360,"height":194,"data":{"name":"sct"},"mark":{"type":"tick","orient":"horizontal","thickness":8,"opacity":1},
"encoding":{"x":{"field":"c","type":"nominal","scale":{"type":"band","domain":["1","2","3"],"paddingInner":0,"paddingOuter":0},"axis":{"title":"Scope.trend"}},
"y":{"field":"a","type":"nominal","scale":{"type":"band","domain":["A20","A19","A18","A17","A16","A15","A14","A13","A12","A11","A10","A09","A08","A07","A06","A05","A04","A03","A02","A01"],"paddingInner":0,"paddingOuter":0},"axis":{"title":"Functional.area"}},
"size":{"field":"n","type":"quantitative","scale":{"domain":[0,20],"range":[0,90]},"legend":null},
"color":{"field":"a","type":"nominal","scale":{"domain":["A01","A02","A03","A04","A05","A06","A07","A08","A09","A10","A11","A12","A13","A14","A15","A16","A17","A18","A19","A20"],"range":["#E41A1C","#9B445D","#536E9F","#3D8B9B","#469F6D","#55A454","#757C79","#94539F","#BE6067","#E97522","#FF9A0B","#FFD020","#FBF732","#D5B02E","#B06929","#C06458","#E27698","#E885B9","#C08FA9","#999999"]},"legend":null}}},
{"width":400,"height":194,"data":{"name":"ct"},"mark":{"type":"tick","orient":"horizontal","thickness":8,"opacity":1},
"encoding":{"x":{"field":"c","type":"nominal","scale":{"type":"band","domain":["1","2","3"],"paddingInner":0,"paddingOuter":0},"axis":{"title":"Customer.Satisfaction.trend"}},
"y":{"field":"a","type":"nominal","scale":{"type":"band","domain":["A20","A19","A18","A17","A16","A15","A14","A13","A12","A11","A10","A09","A08","A07","A06","A05","A04","A03","A02","A01"],"paddingInner":0,"paddingOuter":0},"axis":null},
"size":{"field":"n","type":"quantitative","scale":{"domain":[0,20],"range":[0,90]},"legend":null},
"color":{"field":"a","type":"nominal","scale":{"domain":["A01","A02","A03","A04","A05","A06","A07","A08","A09","A10","A11","A12","A13","A14","A15","A16","A17","A18","A19","A20"],"range":["#E41A1C","#9B445D","#536E9F","#3D8B9B","#469F6D","#55A454","#757C79","#94539F","#BE6067","#E97522","#FF9A0B","#FFD020","#FBF732","#D5B02E","#B06929","#C06458","#E27698","#E885B9","#C08FA9","#999999"]},"legend":null}}},
{"width":400,"height":194,"data":{"name":"qk"},"mark":{"type":"tick","orient":"horizontal","thickness":8,"opacity":1},
"encoding":{"x":{"field":"c","type":"nominal","scale":{"type":"band","domain":["1","2","3"],"paddingInner":0,"paddingOuter":0},"axis":{"title":"Quality.KPI"}},
"y":{"field":"a","type":"nominal","scale":{"type":"band","domain":["A20","A19","A18","A17","A16","A15","A14","A13","A12","A11","A10","A09","A08","A07","A06","A05","A04","A03","A02","A01"],"paddingInner":0,"paddingOuter":0},"axis":null},
"size":{"field":"n","type":"quantitative","scale":{"domain":[0,20],"range":[0,90]},"legend":null},
"color":{"field":"a","type":"nominal","scale":{"domain":["A01","A02","A03","A04","A05","A06","A07","A08","A09","A10","A11","A12","A13","A14","A15","A16","A17","A18","A19","A20"],"range":["#E41A1C","#9B445D","#536E9F","#3D8B9B","#469F6D","#55A454","#757C79","#94539F","#BE6067","#E97522","#FF9A0B","#FFD020","#FBF732","#D5B02E","#B06929","#C06458","#E27698","#E885B9","#C08FA9","#999999"]},"legend":null}}},
{"width":399,"height":194,"data":{"name":"qt"},"mark":{"type":"tick","orient":"horizontal","thickness":8,"opacity":1},
"encoding":{"x":{"field":"c","type":"nominal","scale":{"type":"band","domain":["1","2","3"],"paddingInner":0,"paddingOuter":0},"axis":{"title":"Quality.trend"}},
"y":{"field":"a","type":"nominal","scale":{"type":"band","domain":["A20","A19","A18","A17","A16","A15","A14","A13","A12","A11","A10","A09","A08","A07","A06","A05","A04","A03","A02","A01"],"paddingInner":0,"paddingOuter":0},"axis":null},
"size":{"field":"n","type":"quantitative","scale":{"domain":[0,20],"range":[0,90]},"legend":null},
"color":{"field":"a","type":"nominal","scale":{"domain":["A01","A02","A03","A04","A05","A06","A07","A08","A09","A10","A11","A12","A13","A14","A15","A16","A17","A18","A19","A20"],"range":["#E41A1C","#9B445D","#536E9F","#3D8B9B","#469F6D","#55A454","#757C79","#94539F","#BE6067","#E97522","#FF9A0B","#FFD020","#FBF732","#D5B02E","#B06929","#C06458","#E27698","#E885B9","#C08FA9","#999999"]},"legend":null}}}
]
}
